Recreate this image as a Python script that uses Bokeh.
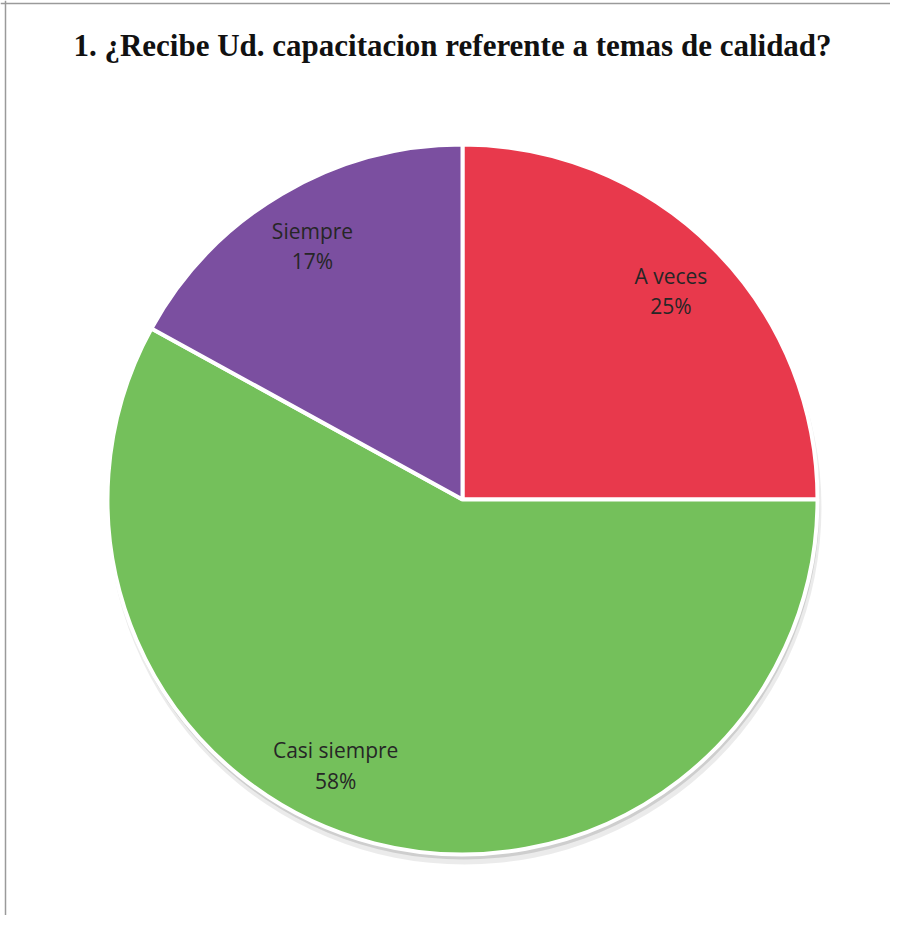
import math
from bokeh.plotting import figure
from bokeh.models import ColumnDataSource, Range1d, Label, Span
from bokeh.core.properties import value
from bokeh.embed import file_html
from bokeh.resources import INLINE

# ---- data ----
categories = ["A veces", "Casi siempre", "Siempre"]
percents = [25, 58, 17]
colors = ["#E8394C", "#74C05B", "#7B4FA0"]
title_text = "1. ¿Recibe Ud. capacitacion referente a temas de calidad?"

# ---- layout constants ----
W, H = 890, 915
cx, cy = 462, H - 499      # pie centre in plot units (pixels)
R = 355
label_r = 0.83 * R
label_angle_override = {"Casi siempre": 244.5}

total = float(sum(percents))
starts, ends, lx, ly, txt = [], [], [], [], []
a = 90.0
for cat, pct in zip(categories, percents):
    sweep = 360.0 * pct / total
    end = a
    start = a - sweep
    starts.append(math.radians(start))
    ends.append(math.radians(end))
    mid = label_angle_override.get(cat, (start + end) / 2.0)
    lx.append(cx + label_r * math.cos(math.radians(mid)))
    ly.append(cy + label_r * math.sin(math.radians(mid)))
    txt.append(f"{cat}\n{round(pct / total * 100)}%")
    a = start

src = ColumnDataSource(dict(cat=categories, start=starts, end=ends, color=colors,
                            x=[cx] * len(categories), y=[cy] * len(categories)))
lab = ColumnDataSource(dict(x=lx, y=ly, text=txt))

p = figure(width=W, height=H, output_backend="svg", toolbar_location=None,
           x_range=Range1d(0, W), y_range=Range1d(0, H), min_border=0)
p.axis.visible = False
p.grid.visible = False
p.outline_line_color = None
p.background_fill_color = "white"

# chart-area border (left and top edges visible in the reference)
p.add_layout(Span(location=5, dimension="height", line_color="#9a9a9a", line_width=1.5))
p.add_layout(Span(location=H - 3, dimension="width", line_color="#9a9a9a", line_width=1.5))

# soft shadow
p.wedge(x=cx + 2, y=cy - 8, radius=R + 2, start_angle=0, end_angle=2 * math.pi,
        fill_color="#000000", fill_alpha=0.08, line_color=None)
p.wedge(x=cx + 1, y=cy - 4, radius=R + 1, start_angle=0, end_angle=2 * math.pi,
        fill_color="#000000", fill_alpha=0.12, line_color=None)

p.wedge(x="x", y="y", radius=R, start_angle="start", end_angle="end",
        fill_color="color", line_color="white", line_width=4, source=src)

p.text(x="x", y="y", text="text", source=lab, text_align="center",
       text_baseline="middle", text_font=value("Open Sans"),
       text_font_size="21px", text_color="#262626", text_line_height=1.08)

p.add_layout(Label(x=W / 2 + 7, y=H - 45, x_units="screen", y_units="screen",
                   text=title_text, text_align="center", text_baseline="middle",
                   text_font="Liberation Serif", text_font_style="bold",
                   text_font_size="31px", text_color="#111111"))

open("out.html", "w").write(file_html(p, INLINE))
